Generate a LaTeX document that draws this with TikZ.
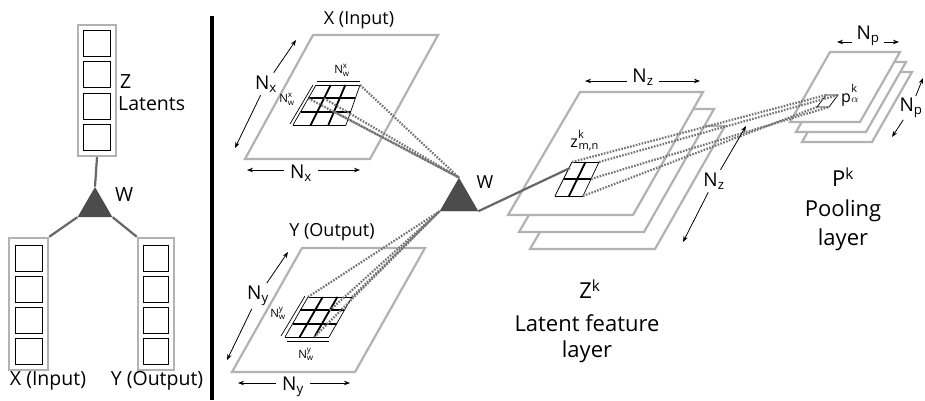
\documentclass[tikz,border=0pt]{standalone}
\usepackage{fontspec}
\usepackage{amsmath}
\setmainfont{Open Sans}
\usetikzlibrary{arrows.meta, calc, shapes.geometric}

\begin{document}
\begin{tikzpicture}[x=1pt, y=-1pt,
		plane/.style={draw=black!30, line width=2.2pt, fill=white},
		colbox/.style={draw=black!30, line width=2.4pt, inner sep=0pt},
		cell/.style={draw=black, line width=0.8pt, inner sep=0pt, minimum width=27pt, minimum height=26pt},
		link/.style={draw=black!60, line width=2.2pt},
		field/.style={draw=black!55, line width=2.2pt, dash pattern=on 1.6pt off 1.4pt},
		weights/.style={regular polygon, regular polygon sides=3, fill=black!70, inner sep=0pt},
		dim/.style={-{Stealth[length=6pt, width=4.5pt]}, line width=0.8pt},
		gridline/.style={draw=black, line width=0.7pt},
		tick/.style={line width=0.7pt},
		lbl/.style={font=\fontsize{18}{21}\selectfont, inner sep=1pt},
		side/.style={font=\fontsize{19.5}{23}\selectfont, inner sep=1pt},
		nlbl/.style={font=\fontsize{19}{21}\selectfont, inner sep=3pt},
		big/.style={font=\fontsize{22}{26}\selectfont, inner sep=1pt},
		tiny/.style={font=\fontsize{11.5}{13}\selectfont, inner sep=0.5pt},
		sym/.style={font=\fontsize{16}{18}\selectfont, inner sep=0pt},
		idx/.style={font=\fontsize{11}{12}\selectfont, inner sep=0pt}
		]
		\useasboundingbox (0,0) rectangle (925,400);

		% left panel: latent model
		\node [colbox, minimum width=38pt, minimum height=131pt] (zcol) at (97,90.5) {};
		\foreach \i in {0,...,3}
			\node [cell] (zc\i) at (97,43.5+31.3*\i) {};
		\node [colbox, minimum width=39pt, minimum height=132pt] (xcol) at (28.5,304) {};
		\node [colbox, minimum width=36pt, minimum height=132pt] (ycol) at (156,304) {};
		\foreach \i in {0,...,3} {
			\node [cell] (xc\i) at (28.5,258.5+31*\i) {};
			\node [cell, minimum width=25pt] (yc\i) at (156,258.5+31*\i) {};
		}
		\node [weights, minimum size=40pt] (wl) at (95,207) {};
		\draw [link] (zcol.south) -- (wl.corner 1);
		\draw [link] (wl.corner 2) -- (xcol.north east);
		\draw [link] (wl.corner 3) -- (ycol.north west);
		\node [side, anchor=west] (zlbl) at (119,82) {Z};
		\node [side, anchor=west] (latlbl) at (117,104) {Latents};
		\node [side, anchor=west] (wllbl) at (114,195) {W};
		\node [side] (xlbl) at (48,381) {X (Input)};
		\node [side] (ylbl) at (157,381) {Y (Output)};

		% divider
		\coordinate (divtop) at (212,16);
		\coordinate (divbot) at (212,400);
		\draw [line width=4pt] (divtop) -- (divbot);

		% input plane X
		\draw [plane] (313,35) -- (438,35) -- (370,159) -- (245,159) -- cycle;
		\coordinate (gxTL) at (316,85);
		\coordinate (gxTR) at (360,85);
		\coordinate (gxBR) at (346,125);
		\coordinate (gxBL) at (293,125);
		\foreach \t in {0,1,2,3} {
			\draw [gridline] ($(gxTL)!\t/3!(gxBL)$) -- ($(gxTR)!\t/3!(gxBR)$);
			\draw [gridline] ($(gxTL)!\t/3!(gxTR)$) -- ($(gxBL)!\t/3!(gxBR)$);
		}
		\foreach \t in {1,2} {
			\draw [gridline, line width=1.8pt] ($(gxTL)!\t/3!(gxBL)$) -- ($(gxTR)!\t/3!(gxBR)$);
			\draw [gridline, line width=1.8pt] ($(gxTL)!\t/3!(gxTR)$) -- ($(gxBL)!\t/3!(gxBR)$);
		}
		\coordinate (nwxa) at (317,81);
		\coordinate (nwxb) at (360,81);
		\coordinate (nwxc) at (290,124);
		\coordinate (nwxd) at (313,85);
		\draw [tick] (nwxa) -- (nwxb);
		\draw [tick] (nwxc) -- (nwxd);
		\node [tiny] (nwxtop) at (342,70) {$\text{N}^{\text{x}}_{\text{w}}$};
		\node [tiny] (nwxleft) at (287,99) {$\text{N}^{\text{x}}_{\text{w}}$};
		\node [lbl] (xtitle) at (359,20) {X (Input)};

		% output plane Y
		\draw [plane] (302,248) -- (425,248) -- (355,372) -- (232,372) -- cycle;
		\coordinate (gyTL) at (308,297);
		\coordinate (gyTR) at (352,297);
		\coordinate (gyBR) at (329,337);
		\coordinate (gyBL) at (285,337);
		\foreach \t in {0,1,2,3} {
			\draw [gridline] ($(gyTL)!\t/3!(gyBL)$) -- ($(gyTR)!\t/3!(gyBR)$);
			\draw [gridline] ($(gyTL)!\t/3!(gyTR)$) -- ($(gyBL)!\t/3!(gyBR)$);
		}
		\foreach \t in {1,2} {
			\draw [gridline, line width=1.8pt] ($(gyTL)!\t/3!(gyBL)$) -- ($(gyTR)!\t/3!(gyBR)$);
			\draw [gridline, line width=1.8pt] ($(gyTL)!\t/3!(gyTR)$) -- ($(gyBL)!\t/3!(gyBR)$);
		}
		\coordinate (nwya) at (281,336);
		\coordinate (nwyb) at (305,296);
		\coordinate (nwyc) at (287,341);
		\coordinate (nwyd) at (329,341);
		\draw [tick] (nwya) -- (nwyb);
		\draw [tick] (nwyc) -- (nwyd);
		\node [tiny] (nwyleft) at (278,313) {$\text{N}^{\text{y}}_{\text{w}}$};
		\node [tiny] (nwybot) at (306,354) {$\text{N}^{\text{y}}_{\text{w}}$};
		\node [lbl] (ytitle) at (332,232) {Y (Output)};

		% latent feature planes Z^k
		\foreach \d in {2,1,0}
			\draw [plane, shift={(11*\d,17*\d)}] (580,92) -- (703,92) -- (633,215) -- (508,215) -- cycle;
		\coordinate (gzTL) at (572,162);
		\coordinate (gzTR) at (599,162);
		\coordinate (gzBR) at (583,196);
		\coordinate (gzBL) at (555,196);
		\foreach \t in {0,1,2} {
			\draw [gridline] ($(gzTL)!\t/2!(gzBL)$) -- ($(gzTR)!\t/2!(gzBR)$);
			\draw [gridline] ($(gzTL)!\t/2!(gzTR)$) -- ($(gzBL)!\t/2!(gzBR)$);
		}
		\draw [gridline, line width=1.8pt] ($(gzTL)!0.5!(gzBL)$) -- ($(gzTR)!0.5!(gzBR)$);
		\draw [gridline, line width=1.8pt] ($(gzTL)!0.5!(gzTR)$) -- ($(gzBL)!0.5!(gzBR)$);
		\node [sym, anchor=base east] (zsym) at (578,147) {z};
		\node [idx, anchor=south west] (zsup) at ([yshift=0pt]zsym.north east) {k};
		\node [idx, anchor=north west] (zsub) at ([xshift=0.5pt, yshift=4pt]zsym.south east) {m,n};

		% pooling planes P^k
		\foreach \d in {2,1,0}
			\draw [plane, shift={(6*\d,10*\d)}] (830,52) -- (900,52) -- (860,122) -- (790,122) -- cycle;
		\coordinate (gpTL) at (826,95);
		\coordinate (gpTR) at (838,95);
		\coordinate (gpBR) at (829,107);
		\coordinate (gpBL) at (817,107);
		\draw [gridline] (gpTL) -- (gpTR) -- (gpBR) -- (gpBL) -- cycle;
		\node [sym, anchor=base west] (psym) at (841,102) {p};
		\node [idx, anchor=south west] (psup) at ([yshift=0pt]psym.north east) {k};
		\node [idx, anchor=north west] (psub) at ([yshift=8pt]psym.south east) {$\alpha$};

		% receptive fields
		\node [weights, minimum size=44pt] (w) at (459,200) {};
		\foreach \a/\b in {0/1, 1/1, 2/2, 3/0}
			\draw [field] ($($(gxTL)!\b/3!(gxBL)$)!\a/3!($(gxTR)!\b/3!(gxBR)$)$) -- (w.corner 1);
		\foreach \a/\b in {0/0, 3/0, 2/1, 2/3}
			\draw [field] ($($(gyTL)!\b/3!(gyBL)$)!\a/3!($(gyTR)!\b/3!(gyBR)$)$) -- (w.corner 2);
		\draw [field] (gzTL) -- (gpTL);
		\draw [field] (gzTR) -- (gpTR);
		\draw [field] ($(gzTR)!0.5!(gzBR)$) -- (gpBR);
		\draw [field] (gzBR) -- (gpBL);
		\coordinate (zhit) at (570,168);
		\draw [link] (w.corner 3) -- (zhit);
		\node [weights, minimum size=44pt] (wtop) at (459,200) {};
		\node [lbl] (wlbl) at (485,182) {W};

		% sizes
		\coordinate (nxla) at (296,40);
		\coordinate (nxlb) at (235,148);
		\node [nlbl] (nxl) at (266,84) {N\textsubscript{x}};
		\draw [dim] (nxl) -- (nxla);
		\draw [dim] (nxl) -- (nxlb);
		\coordinate (nxba) at (247,170);
		\coordinate (nxbb) at (360,170);
		\node [nlbl, inner xsep=6pt] (nxb) at (301,173) {N\textsubscript{x}};
		\draw [dim] (nxb.west |- nxba) -- (nxba);
		\draw [dim] (nxb.east |- nxbb) -- (nxbb);

		\coordinate (nyla) at (288,252);
		\coordinate (nylb) at (227,360);
		\node [nlbl] (nyl) at (258,296) {N\textsubscript{y}};
		\draw [dim] (nyl) -- (nyla);
		\draw [dim] (nyl) -- (nylb);
		\coordinate (nyba) at (238,383);
		\coordinate (nybb) at (350,383);
		\node [nlbl, inner xsep=6pt] (nyb) at (293,387) {N\textsubscript{y}};
		\draw [dim] (nyb.west |- nyba) -- (nyba);
		\draw [dim] (nyb.east |- nybb) -- (nybb);

		\coordinate (nzta) at (585,81);
		\coordinate (nztb) at (700,81);
		\node [nlbl, inner xsep=5pt] (nzt) at (643,77) {N\textsubscript{z}};
		\draw [dim] (nzt.west |- nzta) -- (nzta);
		\draw [dim] (nzt.east |- nztb) -- (nztb);
		\coordinate (nzra) at (746,126);
		\coordinate (nzrb) at (683,242);
		\node [nlbl] (nzr) at (714,181) {N\textsubscript{z}};
		\draw [dim] (nzr) -- (nzra);
		\draw [dim] (nzr) -- (nzrb);

		\coordinate (npta) at (837,42);
		\coordinate (nptb) at (899,42);
		\node [nlbl, inner xsep=4pt] (npt) at (868,36) {N\textsubscript{p}};
		\draw [dim] (npt.west |- npta) -- (npta);
		\draw [dim] (npt.east |- nptb) -- (nptb);
		\coordinate (npra) at (923,78);
		\coordinate (nprb) at (892,137);
		\node [nlbl, inner sep=2pt] (npr) at (911,108) {N\textsubscript{p}};
		\draw [dim] (npr) -- (npra);
		\draw [dim] (npr) -- (nprb);

		% layer names
		\node [big] (zk) at (590,289) {Z\textsuperscript{k}};
		\node [big] (zname) at (587,323) {Latent feature};
		\node [big] (zname2) at (587,352) {layer};
		\node [big] (pk) at (843,177) {P\textsuperscript{k}};
		\node [big] (pname) at (843,211) {Pooling};
		\node [big] (pname2) at (843,240) {layer};
	\end{tikzpicture}
\end{document}
